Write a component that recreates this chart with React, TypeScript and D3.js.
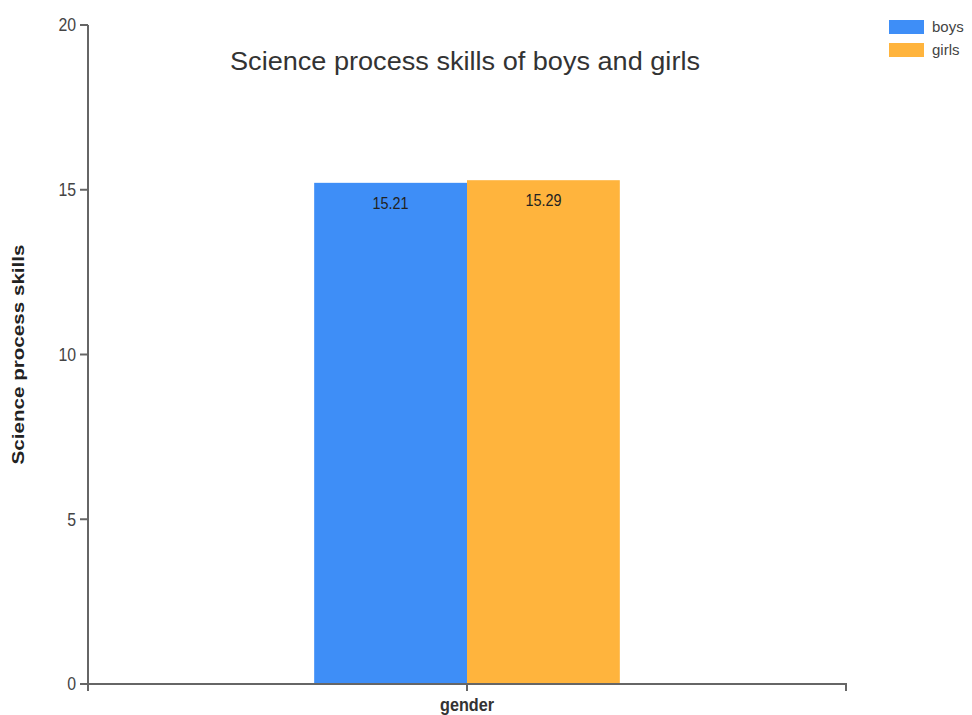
import React from 'react';
import * as d3 from 'd3';

const categories = ['gender'];
const seriesNames = ['boys', 'girls'];
const boysValues = [15.21];
const girlsValues = [15.29];
const seriesColors = ['#3e8ef7', '#ffb43d'];
const yTicks = [0, 5, 10, 15, 20];

const width = 972;
const height = 715;
const margin = { left: 88, right: 126, top: 25, bottom: 31 };

const App = () => {
    const x0 = d3.scaleBand()
        .domain(categories)
        .range([margin.left, width - margin.right])
        .paddingInner(0)
        .paddingOuter(0.74);
    const x1 = d3.scaleBand()
        .domain(seriesNames)
        .range([0, x0.bandwidth()]);
    const y = d3.scaleLinear()
        .domain([0, 20])
        .range([height - margin.bottom, margin.top]);

    const values = [boysValues, girlsValues];
    const axisColor = '#666';
    const font = '"Liberation Sans", Arial, sans-serif';

    return (
        <svg width={width} height={height} style={{ position: 'absolute', left: 0, top: 0, background: '#fff' }}>
            {/* bars */}
            {categories.map((cat, ci) => (
                <g key={cat} transform={`translate(${x0(cat)},0)`}>
                    {seriesNames.map((s, si) => {
                        const v = values[si][ci];
                        const cx = x1(s) + x1.bandwidth() / 2;
                        return (
                            <g key={s}>
                                <rect x={x1(s)} y={y(v)} width={x1.bandwidth()} height={y(0) - y(v)} fill={seriesColors[si]} />
                                <text x={cx} y={y(v) + 26} textAnchor='middle'
                                    transform={`translate(${cx},0) scale(0.9,1) translate(${-cx},0)`}
                                    style={{ fontFamily: font, fontSize: 16, fill: '#222' }}>{v.toFixed(2)}</text>
                            </g>
                        );
                    })}
                </g>
            ))}

            {/* y axis */}
            <g>
                <line x1={margin.left} x2={margin.left} y1={y(20)} y2={y(0)} stroke={axisColor} strokeWidth={2} />
                {yTicks.map(t => (
                    <g key={t} transform={`translate(0,${y(t)})`}>
                        <line x1={margin.left - 8} x2={margin.left} stroke={axisColor} strokeWidth={2} />
                        <text x={margin.left - 12} dy='0.35em' textAnchor='end'
                            transform={`translate(${margin.left - 12},0) scale(0.88,1) translate(${-(margin.left - 12)},0)`}
                            style={{ fontFamily: font, fontSize: 18, fill: '#444' }}>{t}</text>
                    </g>
                ))}
            </g>

            {/* x axis */}
            <g>
                <path d={`M${margin.left},${y(0) + 7}V${y(0)}H${width - margin.right}V${y(0) + 7}`}
                    fill='none' stroke={axisColor} strokeWidth={2} />
                {categories.map(cat => (
                    <g key={cat} transform={`translate(${x0(cat) + x0.bandwidth() / 2},${y(0)})`}>
                        <line y2={7} stroke={axisColor} strokeWidth={2} />
                        <text y={27} textAnchor='middle' transform='scale(0.9,1)'
                            style={{ fontFamily: font, fontSize: 18, fontWeight: 700, fill: '#333' }}>{cat}</text>
                    </g>
                ))}
            </g>

            {/* y label */}
            <text transform={`translate(24,${(y(0) + y(20)) / 2}) rotate(-90)`} textAnchor='middle'
                textLength={220} lengthAdjust='spacingAndGlyphs'
                style={{ fontFamily: font, fontSize: 17, fontWeight: 700, fill: '#222' }}>Science process skills</text>

            {/* title */}
            <text x={465} y={70} textAnchor='middle' textLength={470} lengthAdjust='spacingAndGlyphs'
                style={{ fontFamily: font, fontSize: 26, fill: '#333' }}>
                Science process skills of boys and girls
            </text>

            {/* legend */}
            {seriesNames.map((s, i) => (
                <g key={s} transform={`translate(889,${20 + i * 23})`}>
                    <rect width={35} height={14} fill={seriesColors[i]} />
                    <text x={43} y={12} transform='scale(1,1)'
                        style={{ fontFamily: font, fontSize: 15, fill: '#444' }}>{s}</text>
                </g>
            ))}
        </svg>
    );
};

export default App;
